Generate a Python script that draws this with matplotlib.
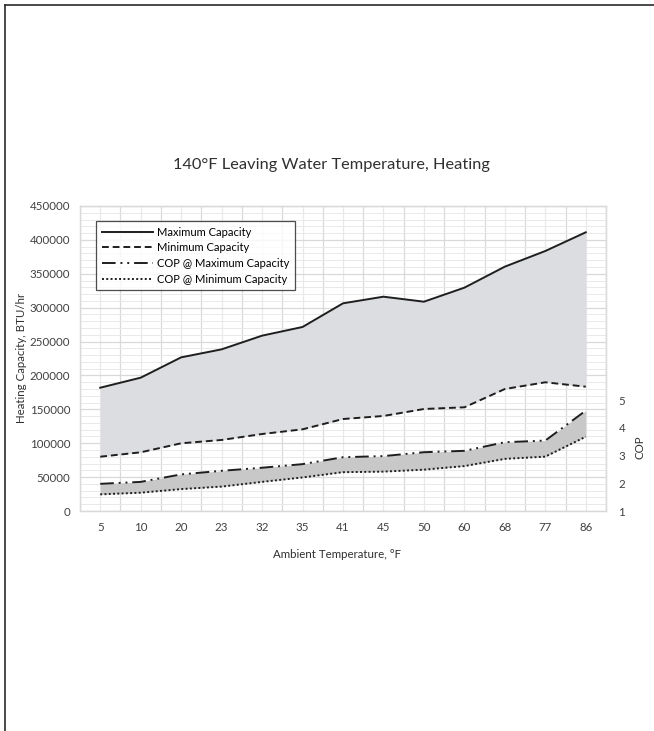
import matplotlib
matplotlib.use('Agg')
from matplotlib import pyplot as plt
from matplotlib.lines import Line2D

plt.rcParams['font.family'] = ['Lato', 'DejaVu Sans']

# data
ambient_temps = ['5', '10', '20', '23', '32', '35', '41', '45', '50', '60', '68', '77', '86']
max_capacity = [181900, 196700, 226700, 238500, 258700, 271500, 306400, 316200,
                308800, 329500, 360500, 383600, 411200]
min_capacity = [80100, 86600, 99900, 104800, 113600, 120500, 135700, 140200,
                150500, 153000, 180000, 189900, 183400]
cop_max = [1.98, 2.05, 2.32, 2.45, 2.56, 2.69, 2.94, 2.98, 3.12, 3.17, 3.48, 3.54, 4.62]
cop_min = [1.60, 1.66, 1.79, 1.88, 2.05, 2.21, 2.40, 2.42, 2.49, 2.62, 2.88, 2.96, 3.68]

x = list(range(len(ambient_temps)))
line_color = '#1e1e1e'
grid_major = '#d9d9d9'
grid_minor = '#e9e9e9'

fig = plt.figure(figsize=(6.54, 7.31), dpi=100)
ax1 = fig.add_axes([80/654, 1-511/731, 526/654, 305/731])
ax2 = ax1.twinx()

# capacity band
ax1.fill_between(x, min_capacity, max_capacity, color='#dcdde0', linewidth=0, zorder=2)
ax1.plot(x, max_capacity, color=line_color, linewidth=1.4, zorder=3)
ax1.plot(x, min_capacity, color=line_color, linewidth=1.4, linestyle=(0, (3.5, 2)), zorder=3)

# COP band
ax2.fill_between(x, cop_min, cop_max, color='#c8c8c8', linewidth=0, zorder=2)
ax2.plot(x, cop_max, color=line_color, linewidth=1.4,
         linestyle=(0, (7, 2.5, 1, 2.5, 1, 2.5)), zorder=3)
ax2.plot(x, cop_min, color=line_color, linewidth=1.4, linestyle=(0, (1, 1.2)), zorder=3)

ax1.set_xlim(-0.5, len(ambient_temps) - 0.5)
ax1.set_ylim(0, 450000)
ax2.set_ylim(1, 12)

ax1.set_xticks(x)
ax1.set_xticklabels(ambient_temps)
ax1.set_xticks([i - 0.5 for i in range(len(ambient_temps) + 1)], minor=True)
ax1.set_yticks(range(0, 450001, 50000))
ax1.set_yticklabels([str(v) for v in range(0, 450001, 50000)])
ax1.set_yticks(range(0, 450001, 10000), minor=True)
ax2.set_yticks([1, 2, 3, 4, 5])

# excel style grid: boundaries + category centres, 10000 minor steps
ax1.grid(True, which='minor', axis='x', color=grid_major, linewidth=0.9)
ax1.grid(True, which='major', axis='x', color=grid_minor, linewidth=0.9)
ax1.grid(True, which='major', axis='y', color=grid_major, linewidth=0.9)
ax1.grid(True, which='minor', axis='y', color=grid_minor, linewidth=0.7)
ax1.set_axisbelow(True)

for ax in (ax1, ax2):
    for s in ax.spines.values():
        s.set_color(grid_major)
        s.set_linewidth(0.9)
    ax.tick_params(which='both', length=0, labelsize=8.3, colors='#404040')
ax1.tick_params(axis='x', pad=8)
ax1.tick_params(axis='y', pad=7)
ax2.tick_params(axis='y', pad=9)

handles = [
    Line2D([], [], color=line_color, linewidth=1.4),
    Line2D([], [], color=line_color, linewidth=1.4, linestyle=(0, (3.5, 2))),
    Line2D([], [], color=line_color, linewidth=1.4, linestyle=(0, (7, 2.5, 1, 2.5, 1, 2.5))),
    Line2D([], [], color=line_color, linewidth=1.4, linestyle=(0, (1, 1.2))),
]
labels = ['Maximum Capacity', 'Minimum Capacity', 'COP @ Maximum Capacity', 'COP @ Minimum Capacity']
leg = ax2.legend(handles, labels, loc='upper left', bbox_to_anchor=(16/526, 1-15/305),
                 fontsize=8, handlelength=4.6, handletextpad=0.4, labelspacing=0.42,
                 frameon=True, fancybox=False, borderpad=0.5, borderaxespad=0)
leg.get_frame().set_edgecolor('#202020')
leg.get_frame().set_linewidth(0.9)

fig.text(331/654, 1-165/731, '140°F Leaving Water Temperature, Heating',
         ha='center', va='center', fontsize=11.8, color='#303030')
fig.text(22/654, 1-358/731, 'Heating Capacity, BTU/hr', rotation=90,
         ha='center', va='center', fontsize=8.3, color='#303030')
fig.text(640/654, 1-447/731, 'COP', rotation=90,
         ha='center', va='center', fontsize=8.3, color='#303030')
fig.text(337/654, 1-555/731, 'Ambient Temperature, °F',
         ha='center', va='center', fontsize=8.3, color='#303030')

# page frame, top and left edges
fig.add_artist(Line2D([4.5/654, 1], [1-5/731, 1-5/731], color='#2a2a2a', linewidth=1.2))
fig.add_artist(Line2D([4.5/654, 4.5/654], [0, 1-5/731], color='#2a2a2a', linewidth=1.2))

fig.savefig('out.png', dpi=100)
